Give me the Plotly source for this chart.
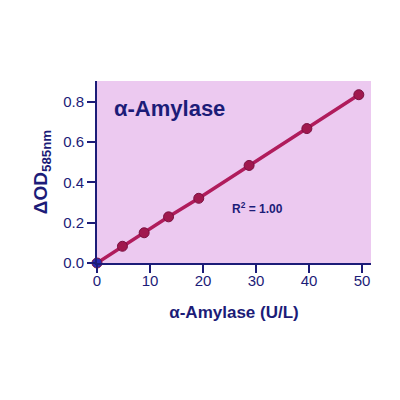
import plotly.graph_objects as go

# alpha-amylase standard curve
activity = [0, 4.8, 8.9, 13.5, 19.2, 28.7, 39.6, 49.4]
delta_od = [0, 0.083, 0.15, 0.229, 0.321, 0.484, 0.667, 0.835]
x_ticks = [0, 10, 20, 30, 40, 50]
y_ticks = [0.0, 0.2, 0.4, 0.6, 0.8]

navy = '#1c1c78'
line_col = '#b01c5c'
font_main = 'Liberation Sans, Arial, sans-serif'


def main():
    fig = go.Figure()
    fig.add_trace(
        go.Scatter(
            x=activity,
            y=delta_od,
            mode='lines+markers',
            line=dict(color=line_col, width=3.5),
            marker=dict(
                size=10,
                color=['#2a2ab0'] + ['#a0184e'] * (len(activity) - 1),
                line=dict(color='#7a1040', width=1),
            ),
            cliponaxis=False,
            showlegend=False,
        )
    )
    fig.add_annotation(
        x=0.055, y=0.85, xref='paper', yref='paper',
        text='<b>α-Amylase</b>', showarrow=False,
        xanchor='left', yanchor='middle',
        font=dict(family=font_main, size=22, color=navy),
    )
    fig.add_annotation(
        x=0.485, y=0.3, xref='paper', yref='paper',
        text='<b>R<sup>2</sup> = 1.00</b>', showarrow=False,
        xanchor='left', yanchor='middle',
        font=dict(family=font_main, size=12, color=navy),
    )
    # page body adds ~8px, so the figure is drawn a bit smaller
    fig.update_layout(
        width=392,
        height=392,
        margin=dict(l=89, r=29, t=73, b=137),
        paper_bgcolor='white',
        plot_bgcolor='#ecc9f0',
        font=dict(family=font_main, color=navy),
        xaxis=dict(
            range=[0, 51.7],
            tickvals=x_ticks,
            ticks='outside', ticklen=8, tickwidth=2, tickcolor=navy,
            showline=True, linecolor=navy, linewidth=2,
            showgrid=False, zeroline=False,
            tickfont=dict(size=15, color=navy),
            ticklabelstandoff=-5,
            title=dict(text='<b>α-Amylase (U/L)</b>', standoff=18,
                       font=dict(size=17, color=navy)),
        ),
        yaxis=dict(
            range=[0, 0.903],
            tickvals=y_ticks,
            tickformat='.1f',
            ticks='outside', ticklen=8, tickwidth=2, tickcolor=navy,
            showline=True, linecolor=navy, linewidth=2,
            showgrid=False, zeroline=False,
            tickfont=dict(size=15, color=navy),
            title=dict(text='<b>ΔOD<sub>585nm</sub></b>', standoff=10,
                       font=dict(size=19, color=navy)),
        ),
    )
    fig.write_html('out.html')


if __name__ == '__main__':
    main()
